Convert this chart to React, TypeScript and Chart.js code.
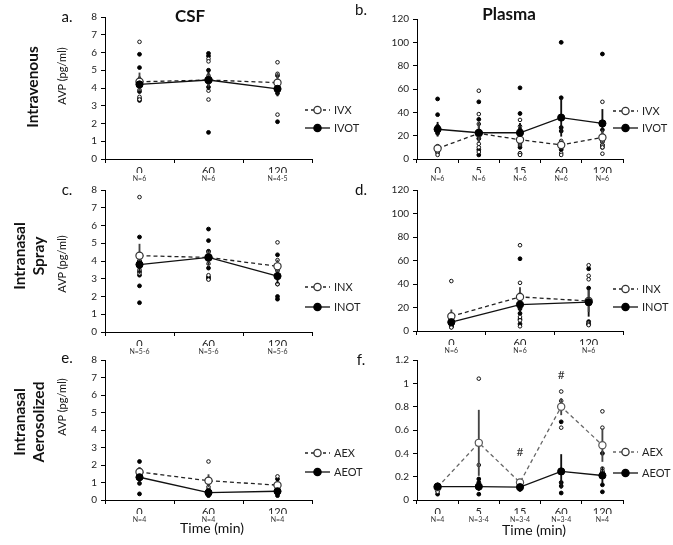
import React, { useEffect, useRef } from 'react';
import { Chart, registerables } from 'chart.js';

Chart.register(...registerables);

const FONT = 'Lato, "Open Sans", "DejaVu Sans", sans-serif';

// ---------- Panel a: CSF, Intravenous ----------
const catsA = ['0', '60', '120'];
const nA = ['N=6', 'N=6', 'N=4-5'];
const meanIVX_csf = [4.35, 4.45, 4.3];
const semIVX_csf = [0.5, 0.35, 0.55];
const meanIVOT_csf = [4.2, 4.45, 3.95];
const semIVOT_csf = [0.45, 0.55, 0.4];
const ptsIVX_csf = [[6.6, 4.5, 4.3, 3.9, 3.5, 3.35], [5.65, 5.5, 4.7, 4.3, 3.85, 3.35], [5.45, 4.8, 4.4, 2.5]];
const ptsIVOT_csf = [[5.9, 5.15, 4.2, 3.8, 3.4, 3.3], [5.95, 5.8, 5.0, 4.5, 4.05, 1.5], [4.7, 4.3, 4.0, 3.7, 2.1]];

// ---------- Panel b: Plasma, Intravenous ----------
const catsB = ['0', '5', '15', '60', '120'];
const nB = ['N=6', 'N=6', 'N=6', 'N=6', 'N=6'];
const meanIVX_pl = [9, 22, 16.5, 12, 18.5];
const semIVX_pl = [2, 8, 5, 2.5, 6];
const meanIVOT_pl = [25.5, 22.5, 22.5, 35.5, 30.5];
const semIVOT_pl = [6, 8, 8, 16, 12];
const ptsIVX_pl = [[11, 10, 9, 7, 5, 3.5], [58.5, 38.5, 30, 13, 10, 6], [33.5, 28, 17, 12, 5, 3.5], [15.5, 14, 12, 10, 5, 3.5], [49, 20, 15, 12, 10, 4.5]];
const ptsIVOT_pl = [[51.5, 38, 28, 22, 8, 6], [49, 34, 24, 17.5, 8, 3.5], [61, 39, 25, 14, 10, 4.5], [100, 52.5, 27, 24, 10, 8], [90, 25, 18, 15, 12, 10]];

// ---------- Panel c: CSF, Intranasal spray ----------
const catsC = ['0', '60', '120'];
const nC = ['N=5-6', 'N=5-6', 'N=5-6'];
const meanINX_csf = [4.3, 4.2, 3.7];
const semINX_csf = [0.65, 0.3, 0.35];
const meanINOT_csf = [3.8, 4.2, 3.15];
const semINOT_csf = [0.5, 0.4, 0.4];
const ptsINX_csf = [[7.6, 4.0, 3.7, 3.5, 3.3], [4.5, 4.35, 4.2, 3.85, 3.2, 2.95], [5.05, 4.05, 3.45, 3.2, 2.7]];
const ptsINOT_csf = [[5.35, 4.0, 3.65, 3.4, 3.2, 2.6, 1.65], [5.8, 5.15, 4.55, 3.6, 3.1, 3.0], [4.35, 3.5, 3.1, 2.7, 2.0, 1.85]];

// ---------- Panel d: Plasma, Intranasal spray ----------
const catsD = ['0', '60', '120'];
const nD = ['N=6', 'N=6', 'N=6'];
const meanINX_pl = [12.5, 29, 25.5];
const semINX_pl = [5.5, 8, 9];
const meanINOT_pl = [7.5, 22.5, 24.5];
const semINOT_pl = [2, 7, 12];
const ptsINX_pl = [[42.5, 8, 5, 4.5, 3.5, 3], [73, 41, 28, 12, 9, 4], [56, 47, 44, 7, 6, 5]];
const ptsINOT_pl = [[12, 10, 7, 5, 4, 3.5], [61.5, 31, 19, 15, 10, 6], [53, 36.5, 25, 8, 6, 5.5]];

// ---------- Panel e: CSF, Intranasal aerosolized ----------
const catsE = ['0', '60', '120'];
const nE = ['N=4', 'N=4', 'N=4'];
const meanAEX_csf = [1.6, 1.1, 0.85];
const semAEX_csf = [0.2, 0.35, 0.15];
const meanAEOT_csf = [1.3, 0.42, 0.5];
const semAEOT_csf = [0.4, 0.1, 0.1];
const ptsAEX_csf = [[1.75, 1.6, 1.5, 1.45], [2.2, 1.0, 0.75, 0.5], [1.35, 0.8, 0.7, 0.55]];
const ptsAEOT_csf = [[2.2, 1.25, 0.95, 0.35], [0.6, 0.45, 0.3, 0.25], [1.2, 0.6, 0.35, 0.25]];

// ---------- Panel f: Plasma, Intranasal aerosolized ----------
const catsF = ['0', '5', '15', '60', '120'];
const nF = ['N=4', 'N=3-4', 'N=3-4', 'N=3-4', 'N=4'];
const meanAEX_pl = [0.11, 0.49, 0.15, 0.8, 0.47];
const semAEX_pl = [0.02, 0.28, 0.02, 0.07, 0.14];
const meanAEOT_pl = [0.115, 0.115, 0.11, 0.245, 0.21];
const semAEOT_pl = [0.015, 0.03, 0.015, 0.145, 0.07];
const ptsAEX_pl = [[0.12, 0.1, 0.09, 0.07], [1.04, 0.3, 0.12], [0.16, 0.15, 0.14], [0.93, 0.85, 0.8, 0.62], [0.76, 0.62, 0.27, 0.25]];
const ptsAEOT_pl = [[0.13, 0.11, 0.08, 0.05], [0.18, 0.15, 0.1, 0.05], [0.15, 0.12, 0.1, 0.09], [0.67, 0.15, 0.12, 0.06], [0.4, 0.24, 0.13, 0.07]];
const sigMarksF = ['', '', '#', '#', ''];
const sigYF = [null, null, 0.41, 1.07, null];

type Panel = {
  left: number; top: number; width: number; height: number;
  area: { l: number; t: number; r: number; b: number };
  cats: string[]; nLabels: string[];
  yMax: number; yStep: number;
  meanX: number[]; semX: number[]; meanOT: number[]; semOT: number[];
  ptsX: number[][]; ptsOT: number[][];
  labelX: string; labelOT: string;
  legX: number; legYX: number; legYOT: number;
  dashColor?: string;
  marks?: string[]; marksY?: (number | null)[];
};

const LW = 370, RL = 355, RW = 318;

const panels: Panel[] = [
  { left: 0, top: 0, width: LW, height: 190, area: { l: 105, t: 17, r: 312, b: 159 }, cats: catsA, nLabels: nA, yMax: 8, yStep: 1,
    meanX: meanIVX_csf, semX: semIVX_csf, meanOT: meanIVOT_csf, semOT: semIVOT_csf, ptsX: ptsIVX_csf, ptsOT: ptsIVOT_csf,
    labelX: 'IVX', labelOT: 'IVOT', legX: 305, legYX: 110, legYOT: 128 },
  { left: RL, top: 0, width: RW, height: 190, area: { l: 417, t: 19, r: 623, b: 159 }, cats: catsB, nLabels: nB, yMax: 120, yStep: 20,
    meanX: meanIVX_pl, semX: semIVX_pl, meanOT: meanIVOT_pl, semOT: semIVOT_pl, ptsX: ptsIVX_pl, ptsOT: ptsIVOT_pl,
    labelX: 'IVX', labelOT: 'IVOT', legX: 613, legYX: 111, legYOT: 128 },
  { left: 0, top: 180, width: LW, height: 180, area: { l: 105, t: 189, r: 312, b: 332 }, cats: catsC, nLabels: nC, yMax: 8, yStep: 1,
    meanX: meanINX_csf, semX: semINX_csf, meanOT: meanINOT_csf, semOT: semINOT_csf, ptsX: ptsINX_csf, ptsOT: ptsINOT_csf,
    labelX: 'INX', labelOT: 'INOT', legX: 305, legYX: 287, legYOT: 307 },
  { left: RL, top: 180, width: RW, height: 180, area: { l: 417, t: 190, r: 623, b: 331 }, cats: catsD, nLabels: nD, yMax: 120, yStep: 20,
    meanX: meanINX_pl, semX: semINX_pl, meanOT: meanINOT_pl, semOT: semINOT_pl, ptsX: ptsINX_pl, ptsOT: ptsINOT_pl,
    labelX: 'INX', labelOT: 'INOT', legX: 613, legYX: 289, legYOT: 307 },
  { left: 0, top: 350, width: LW, height: 195, area: { l: 105, t: 360, r: 312, b: 500 }, cats: catsE, nLabels: nE, yMax: 8, yStep: 1,
    meanX: meanAEX_csf, semX: semAEX_csf, meanOT: meanAEOT_csf, semOT: semAEOT_csf, ptsX: ptsAEX_csf, ptsOT: ptsAEOT_csf,
    labelX: 'AEX', labelOT: 'AEOT', legX: 305, legYX: 453, legYOT: 472 },
  { left: RL, top: 350, width: RW, height: 195, area: { l: 417, t: 360, r: 623, b: 500 }, cats: catsF, nLabels: nF, yMax: 1.2, yStep: 0.2,
    meanX: meanAEX_pl, semX: semAEX_pl, meanOT: meanAEOT_pl, semOT: semAEOT_pl, ptsX: ptsAEX_pl, ptsOT: ptsAEOT_pl,
    labelX: 'AEX', labelOT: 'AEOT', legX: 613, legYX: 452, legYOT: 473, dashColor: '#666', marks: sigMarksF, marksY: sigYF },
];

const H1 = 14, H2 = 12;

function buildConfig(p: Panel): any {
  const toPts = (arr: number[][]) => arr.flatMap((vals, i) => vals.map((v) => ({ x: p.cats[i], y: v })));
  const err = (m: number[], s: number[]) => m.map((v, i) => [v - s[i], v + s[i]]);
  const dash = p.dashColor || '#222';

  const legendPlugin = {
    id: 'panelLegend',
    afterDraw(chart: any) {
      const ctx = chart.ctx;
      const x0 = p.legX - p.left;
      const items = [
        { y: p.legYX - p.top, dashed: true, label: p.labelX },
        { y: p.legYOT - p.top, dashed: false, label: p.labelOT },
      ];
      ctx.save();
      for (const it of items) {
        ctx.beginPath();
        ctx.strokeStyle = it.dashed ? dash : '#111';
        ctx.lineWidth = 1.3;
        ctx.setLineDash(it.dashed ? [3, 3] : []);
        ctx.moveTo(x0, it.y);
        ctx.lineTo(x0 + 25, it.y);
        ctx.stroke();
        ctx.setLineDash([]);
        ctx.beginPath();
        ctx.arc(x0 + 12.5, it.y, 3.6, 0, Math.PI * 2);
        ctx.fillStyle = it.dashed ? '#fff' : '#000';
        ctx.fill();
        ctx.strokeStyle = it.dashed ? '#333' : '#000';
        ctx.stroke();
        ctx.fillStyle = '#222';
        ctx.font = `11px ${FONT}`;
        ctx.textBaseline = 'middle';
        ctx.textAlign = 'left';
        ctx.fillText(it.label, x0 + 29, it.y);
      }
      ctx.restore();
    },
  };

  const marksPlugin = {
    id: 'sigMarks',
    afterDatasetsDraw(chart: any) {
      if (!p.marks || !p.marksY) return;
      const ctx = chart.ctx;
      const xs = chart.scales.x, ys = chart.scales.y;
      ctx.save();
      ctx.fillStyle = '#333';
      ctx.font = `12px ${FONT}`;
      ctx.textAlign = 'center';
      ctx.textBaseline = 'middle';
      p.marks.forEach((m, i) => {
        const yv = p.marksY![i];
        if (!m || yv == null) return;
        ctx.fillText(m, xs.getPixelForValue(i), ys.getPixelForValue(yv));
      });
      ctx.restore();
    },
  };

  return {
    type: 'bar',
    data: {
      labels: p.cats,
      datasets: [
        { type: 'line', label: p.labelOT, data: p.meanOT, borderColor: '#111', borderWidth: 1.3,
          pointRadius: 3.6, pointBackgroundColor: '#000', pointBorderColor: '#000', pointBorderWidth: 1, order: 0 },
        { type: 'line', label: p.labelX, data: p.meanX, borderColor: dash, borderWidth: 1.3, borderDash: [4, 3],
          pointRadius: 3.6, pointBackgroundColor: '#fff', pointBorderColor: p.dashColor ? '#555' : '#333', pointBorderWidth: 1.2, order: 1 },
        { type: 'bar', label: 'semX', data: err(p.meanX, p.semX), backgroundColor: '#444', barThickness: 1.2, grouped: false, order: 2 },
        { type: 'bar', label: 'semOT', data: err(p.meanOT, p.semOT), backgroundColor: '#111', barThickness: 1.2, grouped: false, order: 2 },
        { type: 'line', label: 'ptsX', data: toPts(p.ptsX), showLine: false, pointRadius: 1.8,
          pointBackgroundColor: '#fff', pointBorderColor: '#111', pointBorderWidth: 1, order: 3 },
        { type: 'line', label: 'ptsOT', data: toPts(p.ptsOT), showLine: false, pointRadius: 1.9,
          pointBackgroundColor: '#000', pointBorderColor: '#000', pointBorderWidth: 1, order: 3 },
      ],
    },
    options: {
      responsive: false,
      animation: false,
      events: [],
      layout: {
        padding: {
          left: 0,
          top: p.area.t - p.top,
          right: p.left + p.width - p.area.r,
          bottom: p.height - (p.area.b - p.top) - H1 - H2,
        },
      },
      plugins: { legend: { display: false }, tooltip: { enabled: false } },
      scales: {
        x: {
          type: 'category', position: 'bottom', offset: true, weight: 0,
          grid: { display: true, drawOnChartArea: false, offset: true, tickLength: 4, color: '#000', tickColor: '#000' },
          border: { display: true, color: '#000', width: 1 },
          ticks: { font: { size: 11, family: FONT }, color: '#222', padding: 2, maxRotation: 0, autoSkip: false },
          afterFit: (s: any) => { s.height = H1; },
        },
        xN: {
          type: 'category', position: 'bottom', offset: true, weight: 1, labels: p.nLabels,
          grid: { display: false, drawTicks: false },
          border: { display: false },
          ticks: { font: { size: 7, family: FONT }, color: '#333', padding: 2, maxRotation: 0, autoSkip: false },
          afterFit: (s: any) => { s.height = H2; },
        },
        y: {
          min: 0, max: p.yMax,
          ticks: {
            stepSize: p.yStep, font: { size: 10, family: FONT }, color: '#222', padding: 4,
            callback: (v: any) => String(Math.round(Number(v) * 100) / 100),
          },
          grid: { display: true, drawOnChartArea: false, tickLength: 4, color: '#000', tickColor: '#000' },
          border: { display: true, color: '#000', width: 1 },
          afterFit: (s: any) => { s.width = p.area.l - p.left; },
        },
      },
    },
    plugins: [legendPlugin, marksPlugin],
  };
}

function PanelChart({ p }: { p: Panel }) {
  const ref = useRef<HTMLCanvasElement | null>(null);
  useEffect(() => {
    if (!ref.current) return;
    const chart = new Chart(ref.current, buildConfig(p));
    return () => chart.destroy();
  }, [p]);
  return (
    <canvas
      ref={ref}
      width={p.width}
      height={p.height}
      style={{ position: 'absolute', left: p.left, top: p.top, width: p.width, height: p.height }}
    />
  );
}

type Txt = { text: string; x: number; y: number; size: number; bold?: boolean; rotate?: boolean; lh?: number };

const overlayTexts: Txt[] = [
  { text: 'CSF', x: 190, y: 15, size: 17, bold: true },
  { text: 'Plasma', x: 509, y: 13, size: 17, bold: true },
  { text: 'a.', x: 67, y: 16, size: 15 },
  { text: 'b.', x: 361, y: 9, size: 15 },
  { text: 'c.', x: 67, y: 189, size: 15 },
  { text: 'd.', x: 361, y: 189, size: 15 },
  { text: 'e.', x: 67, y: 357, size: 15 },
  { text: 'f.', x: 361, y: 359, size: 15 },
  { text: 'Intravenous', x: 33, y: 87, size: 15.5, bold: true, rotate: true },
  { text: 'Intranasal\nSpray', x: 28.5, y: 256, size: 15.5, bold: true, rotate: true, lh: 19 },
  { text: 'Intranasal\nAerosolized', x: 28.5, y: 422, size: 15.5, bold: true, rotate: true, lh: 19 },
  { text: 'AVP (pg/ml)', x: 61, y: 76, size: 11, rotate: true },
  { text: 'AVP (pg/ml)', x: 61, y: 264, size: 11, rotate: true },
  { text: 'AVP (pg/ml)', x: 61, y: 407, size: 11, rotate: true },
  { text: 'Time (min)', x: 212, y: 528, size: 14 },
  { text: 'Time (min)', x: 534, y: 530, size: 14 },
];

export default function App() {
  return (
    <div style={{ position: 'absolute', left: 0, top: 0, width: 673, height: 545, background: '#fff', overflow: 'hidden', fontFamily: FONT }}>
      {panels.map((p, i) => <PanelChart key={i} p={p} />)}
      {overlayTexts.map((t, i) => (
        <div
          key={'t' + i}
          style={{
            position: 'absolute', left: t.x, top: t.y,
            fontSize: t.size, fontWeight: t.bold ? 700 : 400, color: '#111',
            lineHeight: t.lh ? `${t.lh}px` : '1', whiteSpace: 'pre', textAlign: 'center',
            transform: `translate(-50%, -50%)${t.rotate ? ' rotate(-90deg)' : ''}`,
          }}
        >
          {t.text}
        </div>
      ))}
    </div>
  );
}
